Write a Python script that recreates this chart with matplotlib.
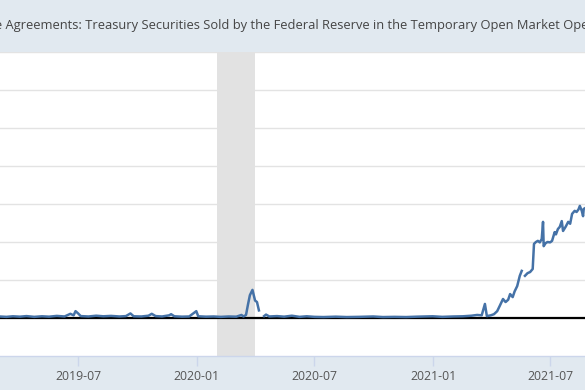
import matplotlib
matplotlib.use("Agg")
import matplotlib.pyplot as plt
import matplotlib.dates as mdates
import numpy as np
import pandas as pd

TITLE = ("Reverse Repurchase Agreements: Treasury Securities Sold by the Federal "
         "Reserve in the Temporary Open Market Operations")

# series (billions; axis labels are cropped out of view)
dates = [
    "2019-03-01", "2019-03-12", "2019-03-22", "2019-04-02", "2019-04-12", "2019-04-24",
    "2019-05-06", "2019-05-17", "2019-05-29", "2019-06-10", "2019-06-19", "2019-06-24",
    "2019-06-27", "2019-07-01", "2019-07-05", "2019-07-17", "2019-07-29", "2019-08-09",
    "2019-08-21", "2019-09-03", "2019-09-13", "2019-09-20", "2019-09-25", "2019-10-07",
    "2019-10-18", "2019-10-23", "2019-10-29", "2019-11-08", "2019-11-19", "2019-11-22",
    "2019-11-27", "2019-12-09", "2019-12-20", "2019-12-31", "2020-01-03", "2020-01-15",
    "2020-01-27", "2020-02-07", "2020-02-19", "2020-03-02", "2020-03-10", "2020-03-13",
    "2020-03-17", "2020-03-20", "2020-03-23", "2020-03-27", "2020-03-31", "2020-04-03",
    "2020-04-06", "2020-04-08", "2020-04-14", "2020-04-17", "2020-04-22", "2020-05-04",
    "2020-05-15", "2020-05-27", "2020-06-08", "2020-06-19", "2020-07-01", "2020-07-15",
    "2020-08-03", "2020-08-20", "2020-09-08", "2020-09-30", "2020-10-15", "2020-11-02",
    "2020-11-20", "2020-12-07", "2020-12-31", "2021-01-15", "2021-02-01", "2021-02-16",
    "2021-03-01", "2021-03-10", "2021-03-17", "2021-03-22", "2021-03-25", "2021-03-31",
    "2021-04-05", "2021-04-10", "2021-04-14", "2021-04-19", "2021-04-23", "2021-04-27",
    "2021-04-30", "2021-05-04", "2021-05-07", "2021-05-11", "2021-05-15", "2021-05-18",
    "2021-05-20", "2021-05-23", "2021-05-27", "2021-05-31", "2021-06-04", "2021-06-06",
    "2021-06-09", "2021-06-12", "2021-06-15", "2021-06-18", "2021-06-20", "2021-06-21",
    "2021-06-24", "2021-06-27", "2021-07-01", "2021-07-04", "2021-07-08", "2021-07-10",
    "2021-07-13", "2021-07-16", "2021-07-19", "2021-07-21", "2021-07-25", "2021-07-29",
    "2021-08-01", "2021-08-04", "2021-08-08", "2021-08-11", "2021-08-14", "2021-08-16",
    "2021-08-19", "2021-08-21", "2021-08-22", "2021-08-25",
]
values = [
    8, 6, 9, 7, 10, 6,
    9, 7, 11, 8, 22, 14,
    36, 24, 10, 8, 12, 9,
    11, 8, 10, 24, 9, 8,
    12, 22, 10, 8, 14, 20,
    9, 7, 8, 36, 9, 7,
    8, 6, 8, 7, 16, 8,
    16, 70, 120, 148, 92, 84,
    40, np.nan, 10, 18, 8, 10,
    7, 12, 6, 9, 6, 5,
    7, 5, 6, 8, 5, 6,
    5, 7, 9, 6, 8, 9,
    12, 16, 14, 74, 10, 14,
    20, 36, 64, 100, 84, 96,
    126, 110, 140, 168, 222, 248,
    np.nan, 222, 236, 242, 258, 390,
    400, 406, 398, 416, 506, 378,
    394, 400, 398, 406, 452, 440,
    468, 480, 510, 458, 480, 506,
    496, 548, 564, 558, 572, 590,
    564, 536, 574, 580,
]

recession_start = "2020-02-01"
recession_end = "2020-03-31"
tick_dates = ["2019-07-01", "2020-01-01", "2020-07-01", "2021-01-01", "2021-07-01"]
x_start, x_end = "2019-03-02", "2021-08-24"

BAND = "#e1e9f0"
LINE = "#4572a7"

plt.rcParams["font.family"] = ["Open Sans", "DejaVu Sans"]

W, H = 585, 390
fig = plt.figure(figsize=(W / 100, H / 100), dpi=100, facecolor=BAND)
ax = fig.add_axes([0, 1 - 356 / H, 1, (356 - 52) / H])
ax.set_facecolor("white")

x = pd.to_datetime(dates)
ax.plot(x, values, color=LINE, lw=1.8, zorder=3, solid_joinstyle="round")
ax.axhline(0, color="black", lw=1.6, zorder=2.5)
ax.axvspan(pd.Timestamp(recession_start), pd.Timestamp(recession_end),
           color="#e2e2e2", lw=0, zorder=1)

ax.set_xlim(pd.Timestamp(x_start), pd.Timestamp(x_end))
ax.set_ylim(-200, 1400)
ax.set_yticks(np.arange(0, 1401, 200))
ax.set_axisbelow(True)
ax.yaxis.grid(True, color="#e3e3e3", lw=1)
ax.tick_params(axis="y", left=False, labelleft=False)

ax.set_xticks(pd.to_datetime(tick_dates))
ax.xaxis.set_major_formatter(mdates.DateFormatter("%Y-%m"))
ax.tick_params(axis="x", direction="out", length=7, width=1, color="#ccd6eb",
               labelcolor="#555555", labelsize=8.8, pad=3)

for side in ("top", "left", "right"):
    ax.spines[side].set_visible(False)
ax.spines["bottom"].set_color("#ccd6eb")
ax.spines["bottom"].set_linewidth(1)

# title is wider than the crop; place it so "Agreements" starts near the left edge
fs = 9.3
renderer = fig.canvas.get_renderer()
probe_a = fig.text(0, 0, "Reverse Repurchase Agreements", fontsize=fs)
probe_b = fig.text(0, 0, "Agreements", fontsize=fs)
prefix_w = (probe_a.get_window_extent(renderer).width
            - probe_b.get_window_extent(renderer).width)
probe_a.remove()
probe_b.remove()
fig.text((6 - prefix_w) / W, 1 - 26 / H, TITLE, fontsize=fs, color="#444444",
         va="center", ha="left")

fig.savefig("out.png", dpi=100, facecolor=BAND)
